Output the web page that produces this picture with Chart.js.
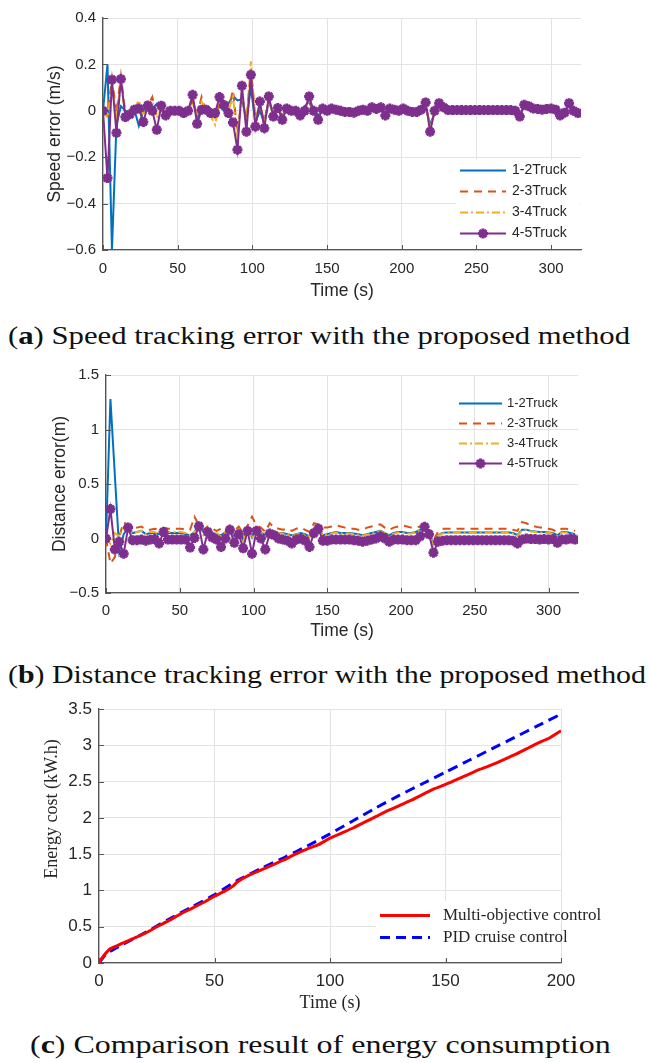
<!DOCTYPE html>
<html lang="en">
<head>
    <meta charset="UTF-8">
    <title>Platoon tracking error and energy cost</title>
    <script src="https://cdn.jsdelivr.net/npm/chart.js"></script>
    <style>
        body { margin: 0; background: #fff; }
        #wrap { position: relative; width: 649px; height: 1063px; overflow: hidden; }
        canvas { position: absolute; left: 0; }
        .cap { position: absolute; white-space: nowrap; font-family: "Liberation Serif", serif;
               font-size: 25px; line-height: 30px; color: #111; transform-origin: 0 50%; }
    </style>
</head>
<body>
<div id="wrap">
    <canvas id="speedChart" width="649" height="310" style="top:0"></canvas>
    <div class="cap" id="capA" style="left:8px; top:321px">(<b>a</b>) Speed tracking error with the proposed method</div>
    <canvas id="distChart" width="649" height="310" style="top:340px"></canvas>
    <div class="cap" id="capB" style="left:8px; top:660px">(<b>b</b>) Distance tracking error with the proposed method</div>
    <canvas id="energyChart" width="649" height="330" style="top:690px"></canvas>
    <div class="cap" id="capC" style="left:30px; top:1030px">(<b>c</b>) Comparison result of energy consumption</div>
</div>

<script>
// sample times (s) shared by the truck error series
var time = [0, 3, 6, 9, 12, 15, 18, 21, 24, 27,
    30, 33, 36, 39, 42, 45, 48, 51, 54, 57,
    60, 63, 66, 69, 72, 75, 78, 81, 84, 87,
    90, 93, 96, 99, 102, 105, 108, 111, 114, 117,
    120, 123, 126, 129, 132, 135, 138, 141, 144, 147,
    150, 153, 156, 159, 162, 165, 168, 171, 174, 177,
    180, 183, 186, 189, 192, 195, 198, 201, 204, 207,
    210, 213, 216, 219, 222, 225, 228, 231, 234, 237,
    240, 243, 246, 249, 252, 255, 258, 261, 264, 267,
    270, 273, 276, 279, 282, 285, 288, 291, 294, 297,
    300, 303, 306, 309, 312, 315, 318];

var truckLabels = ['1-2Truck', '2-3Truck', '3-4Truck', '4-5Truck'];

// (a) speed error, m/s
var speed12 = [0, 0.2, -0.6, -0.06, 0.02, 0, -0.01, 0.005, -0.065, 0,
    0.02, 0.01, 0.03, 0, -0.01, 0, 0, 0, -0.005, 0,
    0.05, -0.03, 0, 0.02, 0.01, -0.02, 0.02, 0, 0.03, 0.065,
    0.045, 0.05, -0.04, 0.1, -0.05, 0, -0.05, 0.04, -0.01, 0.01,
    -0.02, 0.005, 0, 0, -0.01, 0.02, 0.04, -0.01, -0.02, 0.005,
    0, 0.01, 0.005, 0, -0.005, -0.005, -0.008, 0, 0.005, 0,
    0.012, 0.008, 0.012, -0.015, 0.01, 0.005, 0, 0.01, 0, -0.005,
    -0.005, 0.005, 0.02, -0.06, -0.01, 0.02, 0.012, 0.003, 0.003, 0.003,
    0.003, 0.003, 0.003, 0.003, 0.003, 0.003, 0.003, 0.003, 0.003, 0.003,
    0.003, 0.003, 0, -0.015, 0.018, 0.015, 0.01, 0.008, 0.005, 0.008,
    0.01, 0.01, -0.01, 0, 0.02, 0, -0.01];
var speed23 = [0, -0.02, 0.14, -0.01, 0.15, -0.01, -0.005, 0.01, 0.02, -0.02,
    0.02, 0.06, -0.02, 0.01, -0.01, 0, 0, 0, -0.005, 0,
    0.04, -0.02, 0.06, 0, -0.01, -0.03, 0.03, 0.01, 0, 0.09,
    -0.1, 0.07, -0.04, 0.18, -0.03, 0.02, -0.04, 0.04, -0.01, 0.01,
    -0.025, 0.008, 0, 0, -0.012, 0.01, 0.05, -0.005, -0.03, 0.008,
    0, 0.01, 0.005, 0, -0.005, -0.005, -0.008, 0, 0.005, 0,
    0.014, 0.008, 0.014, -0.018, 0.01, 0.005, 0, 0.01, 0, -0.005,
    -0.005, 0.005, 0.028, -0.07, -0.005, 0.028, 0.013, 0.003, 0.003, 0.003,
    0.003, 0.003, 0.003, 0.003, 0.003, 0.003, 0.003, 0.003, 0.003, 0.003,
    0.003, 0.003, 0, -0.02, 0.022, 0.018, 0.01, 0.008, 0.005, 0.008,
    0.01, 0.008, -0.015, -0.005, 0.026, 0, -0.01];
var speed34 = [0, -0.03, 0.1, -0.02, 0.12, -0.02, 0, 0.01, 0.045, -0.02,
    0.02, 0.04, -0.03, 0.01, -0.01, 0, 0, 0, 0, 0,
    0.03, -0.01, 0.04, 0, -0.02, -0.06, 0.03, 0.01, 0, 0.06,
    -0.12, 0.08, -0.06, 0.213, -0.04, 0.03, -0.05, 0.05, -0.015, 0.01,
    -0.03, 0.008, 0, 0, -0.015, 0.005, 0.055, -0.003, -0.035, 0.01,
    0, 0.01, 0.005, 0, -0.005, -0.005, -0.008, 0, 0.005, 0,
    0.015, 0.008, 0.015, -0.02, 0.01, 0.005, 0, 0.01, 0, -0.005,
    -0.005, 0.005, 0.032, -0.08, -0.002, 0.03, 0.014, 0.003, 0.003, 0.003,
    0.003, 0.003, 0.003, 0.003, 0.003, 0.003, 0.003, 0.003, 0.003, 0.003,
    0.003, 0.003, 0, -0.022, 0.024, 0.019, 0.01, 0.008, 0.005, 0.008,
    0.01, 0.006, -0.018, -0.006, 0.03, 0, -0.01];
var speed45 = [0, -0.29, 0.134, -0.095, 0.137, -0.027, -0.015, 0.005, 0.01, -0.048,
    0.023, 0, -0.082, 0.022, -0.02, 0, 0, 0, -0.01, 0,
    0.069, -0.056, 0.005, 0.005, -0.01, -0.01, 0.059, 0.025, -0.01, -0.05,
    -0.168, 0.108, -0.09, 0.155, -0.068, 0.04, -0.075, 0.062, -0.025, 0.012,
    -0.039, 0.01, 0, 0, -0.02, 0, 0.062, 0, -0.039, 0.01,
    0, 0.01, 0.005, 0, -0.005, -0.005, -0.008, 0, 0.005, 0,
    0.015, 0.008, 0.015, -0.02, 0.01, 0.005, 0, 0.01, 0, -0.005,
    -0.005, 0.005, 0.036, -0.09, 0, 0.033, 0.015, 0.003, 0.003, 0.003,
    0.003, 0.003, 0.003, 0.003, 0.003, 0.003, 0.003, 0.003, 0.003, 0.003,
    0.003, 0.003, 0, -0.025, 0.026, 0.02, 0.01, 0.008, 0.005, 0.008,
    0.01, 0.005, -0.02, -0.008, 0.033, 0, -0.01];

// (b) distance error, m
var dist12 = [0, 1.28, 0.58, -0.12, 0.04, 0.1, 0.05, 0.06, 0.07, 0.04,
    0.05, 0.05, 0.04, 0.07, 0.05, 0.05, 0.05, 0.05, 0.04, 0.03,
    0.06, 0.13, 0.06, 0.07, 0.05, 0.04, 0.03, 0.06, 0.1, 0.02,
    0.08, -0.02, 0.1, 0.01, 0.1, 0.06, 0.03, 0.07, 0.06, 0.05,
    0.05, 0.04, 0.03, 0.04, 0.05, 0.04, 0.02, 0.09, 0.1, 0.03,
    0.04, 0.05, 0.06, 0.05, 0.05, 0.05, 0.045, 0.04, 0.03, 0.04,
    0.05, 0.06, 0.07, 0.05, 0.03, 0.05, 0.06, 0.06, 0.05, 0.05,
    0.06, 0.08, 0.11, 0.05, -0.05, 0.03, 0.05, 0.055, 0.055, 0.055,
    0.055, 0.055, 0.055, 0.055, 0.055, 0.055, 0.055, 0.055, 0.055, 0.055,
    0.055, 0.055, 0.05, 0.03, 0.08, 0.08, 0.07, 0.065, 0.06, 0.06,
    0.055, 0.05, 0.03, 0.06, 0.06, 0.05, 0.04];
var dist23 = [0, -0.23, -0.17, 0.02, 0.15, 0.12, 0.09, 0.1, 0.11, 0.08,
    0.08, 0.09, 0.08, 0.1, 0.09, 0.09, 0.09, 0.09, 0.08, 0.08,
    0.2, 0.12, 0.08, 0.11, 0.09, 0.07, 0.09, 0.09, 0.12, 0.07,
    0.11, 0.05, 0.12, 0.2, 0.12, 0.1, 0.06, 0.14, 0.1, 0.09,
    0.08, 0.09, 0.07, 0.09, 0.1, 0.08, 0.06, 0.14, 0.13, 0.1,
    0.1, 0.11, 0.12, 0.11, 0.1, 0.09, 0.09, 0.08, 0.08, 0.1,
    0.11, 0.12, 0.13, 0.1, 0.08, 0.1, 0.11, 0.12, 0.11, 0.1,
    0.1, 0.11, 0.13, 0.09, -0.02, 0.06, 0.09, 0.09, 0.09, 0.09,
    0.09, 0.09, 0.09, 0.09, 0.09, 0.09, 0.09, 0.09, 0.09, 0.09,
    0.09, 0.09, 0.08, 0.07, 0.15, 0.14, 0.12, 0.11, 0.1, 0.1,
    0.09, 0.08, 0.06, 0.09, 0.09, 0.08, 0.07];
var dist34 = [0, -0.05, 0.05, 0.02, 0.1, 0.1, 0.05, 0.06, 0.07, 0.04,
    0.06, 0.06, 0.04, 0.08, 0.06, 0.06, 0.06, 0.06, 0.05, 0.03,
    0.06, 0.1, 0.03, 0.08, 0.06, 0.05, 0.02, 0.06, 0.11, 0.03,
    0.08, -0.03, 0.09, 0, 0.09, 0.06, 0.02, 0.08, 0.07, 0.05,
    0.045, 0.035, 0.025, 0.035, 0.045, 0.035, 0.015, 0.085, 0.095, 0.025,
    0.035, 0.045, 0.055, 0.045, 0.045, 0.045, 0.04, 0.035, 0.025, 0.035,
    0.045, 0.055, 0.065, 0.045, 0.025, 0.045, 0.055, 0.055, 0.045, 0.045,
    0.055, 0.075, 0.1, 0.04, -0.06, 0.025, 0.045, 0.05, 0.05, 0.05,
    0.05, 0.05, 0.05, 0.05, 0.05, 0.05, 0.05, 0.05, 0.05, 0.05,
    0.05, 0.05, 0.045, 0.025, 0.075, 0.075, 0.065, 0.06, 0.055, 0.055,
    0.05, 0.045, 0.025, 0.055, 0.055, 0.045, 0.035];
var dist45 = [0, 0.27, -0.1, -0.03, -0.14, 0.1, -0.015, -0.015, -0.01, -0.02,
    -0.01, -0.005, -0.046, 0.06, -0.01, -0.01, -0.01, -0.01, -0.01, -0.083,
    0.005, 0.113, -0.1, 0.06, 0.01, -0.01, -0.077, 0, 0.08, -0.04,
    0.04, -0.09, 0.07, -0.14, 0.07, 0, -0.1, 0.045, 0.03, 0,
    -0.01, -0.02, -0.046, -0.01, 0, -0.02, -0.077, 0.05, 0.09, -0.02,
    -0.02, -0.01, -0.01, -0.01, -0.01, -0.01, -0.015, -0.02, -0.03, -0.02,
    -0.01, 0, 0.02, 0, -0.03, -0.01, -0.01, -0.01, -0.015, -0.015,
    -0.015, 0.02, 0.107, 0.04, -0.13, -0.03, -0.02, -0.015, -0.015, -0.015,
    -0.015, -0.015, -0.015, -0.015, -0.015, -0.015, -0.015, -0.015, -0.015, -0.015,
    -0.015, -0.015, -0.02, -0.046, -0.01, 0, -0.005, -0.005, -0.01, -0.005,
    -0.01, -0.005, -0.04, -0.01, -0.01, 0, -0.01];

// (c) energy cost, kW.h
var multiTime = [0, 2, 5, 8, 10, 15, 20, 25, 30, 35, 40, 45, 50, 55, 58, 60, 65, 70, 75, 80, 85, 90,
    95, 100, 105, 110, 115, 120, 125, 130, 135, 140, 145, 150, 155, 160, 165, 170, 175, 180, 185, 190, 195, 200];
var multiCost = [0, 0.1, 0.2, 0.24, 0.27, 0.34, 0.41, 0.5, 0.58, 0.67, 0.75, 0.83, 0.92, 1.0, 1.06, 1.12, 1.21, 1.28, 1.35, 1.42, 1.5, 1.57,
    1.63, 1.72, 1.79, 1.86, 1.94, 2.02, 2.1, 2.17, 2.24, 2.32, 2.4, 2.46, 2.53, 2.6, 2.67, 2.73, 2.8, 2.87, 2.95, 3.03, 3.1, 3.2];
var pidTime = [0, 3, 7, 10, 20, 30, 40, 50, 60, 70, 80, 90, 100, 110, 120, 130, 140, 150, 160, 170, 180, 190, 200];
var pidCost = [0, 0.12, 0.2, 0.25, 0.42, 0.6, 0.77, 0.94, 1.14, 1.3, 1.45, 1.61, 1.78, 1.96, 2.14, 2.31, 2.47, 2.63, 2.79, 2.95, 3.11, 3.27, 3.43];

var BLUE = '#0072BD', ORANGE = '#D95319', YELLOW = '#EDB120', PURPLE = '#7E2F8E';
var TXT = '#262626', AXIS = '#555555', GRID = '#e3e3e3';
var NB = '\u00a0';

Chart.defaults.font.family = '"Liberation Sans", Arial, sans-serif';
Chart.defaults.color = TXT;

function pts(xs, ys) {
    return xs.map(function (x, i) { return { x: x, y: ys[i] }; });
}

function fmt(v) {
    var s = String(Number(v.toFixed(2)));
    return s.replace('-', '\u2212');
}

function starAt(ctx, x, y, r) {
    ctx.beginPath();
    ctx.moveTo(x - r, y); ctx.lineTo(x + r, y);
    ctx.moveTo(x, y - r); ctx.lineTo(x, y + r);
    var d = r * 0.7071;
    ctx.moveTo(x - d, y - d); ctx.lineTo(x + d, y + d);
    ctx.moveTo(x - d, y + d); ctx.lineTo(x + d, y - d);
    ctx.stroke();
}

// matlab style ticks pointing into the axes
var inTicks = {
    id: 'inTicks',
    afterDraw: function (chart) {
        var ctx = chart.ctx, a = chart.chartArea, sx = chart.scales.x, sy = chart.scales.y;
        ctx.save();
        ctx.strokeStyle = AXIS;
        ctx.lineWidth = 1;
        ctx.beginPath();
        sx.ticks.forEach(function (t) {
            var p = Math.round(sx.getPixelForValue(t.value)) + 0.5;
            ctx.moveTo(p, a.bottom); ctx.lineTo(p, a.bottom - 5);
        });
        sy.ticks.forEach(function (t) {
            var p = Math.round(sy.getPixelForValue(t.value)) + 0.5;
            ctx.moveTo(a.left, p); ctx.lineTo(a.left + 5, p);
        });
        ctx.stroke();
        ctx.restore();
    }
};

// legend drawn inside the plot, like matlab's
var boxLegend = {
    id: 'boxLegend',
    afterDraw: function (chart, args, o) {
        if (!o || !o.x) return;
        var ctx = chart.ctx;
        ctx.save();
        if (o.bg) {
            ctx.fillStyle = '#fff';
            ctx.fillRect(o.bg[0], o.bg[1], o.bg[2], o.bg[3]);
        }
        chart.data.datasets.forEach(function (ds, i) {
            var y = o.y + i * o.dy;
            ctx.strokeStyle = ds.borderColor;
            ctx.lineWidth = ds.borderWidth;
            ctx.setLineDash(ds.borderDash || []);
            ctx.beginPath();
            ctx.moveTo(o.x, y); ctx.lineTo(o.x + o.len, y);
            ctx.stroke();
            ctx.setLineDash([]);
            if (ds.pointRadius > 0) {
                ctx.lineWidth = ds.pointBorderWidth;
                starAt(ctx, o.x + o.len / 2, y, ds.pointRadius);
            }
            ctx.fillStyle = TXT;
            ctx.font = o.font;
            ctx.textBaseline = 'middle';
            ctx.fillText(ds.label, o.x + o.len + o.gap, y);
        });
        ctx.restore();
    }
};

function truckSets(a, b, c, d) {
    return [
        { label: truckLabels[0], data: pts(time, a), borderColor: BLUE, borderWidth: 2, pointRadius: 0, order: 3 },
        { label: truckLabels[1], data: pts(time, b), borderColor: ORANGE, borderWidth: 2, borderDash: [8, 6], pointRadius: 0, order: 2 },
        { label: truckLabels[2], data: pts(time, c), borderColor: YELLOW, borderWidth: 2, borderDash: [8, 3, 2, 3], pointRadius: 0, order: 1 },
        { label: truckLabels[3], data: pts(time, d), borderColor: PURPLE, borderWidth: 2, pointStyle: 'star',
          pointRadius: 5, pointBorderWidth: 3, pointBorderColor: PURPLE, pointBackgroundColor: PURPLE, order: 0 }
    ];
}

function axes(o) {
    return {
        x: {
            type: 'linear', min: o.xmin, max: o.xmax,
            ticks: { stepSize: o.xstep, includeBounds: false, padding: o.xpad, maxRotation: 0,
                     font: { size: o.tick, family: o.tickFamily }, color: TXT },
            grid: { color: GRID, drawTicks: false },
            border: { color: AXIS, width: 1.3 },
            title: { display: true, text: 'Time (s)', color: TXT, font: { size: o.title, family: o.titleFamily },
                     padding: { top: 0, bottom: o.xtpad } },
            afterFit: function (s) { s.height = o.xh; }
        },
        y: {
            min: o.ymin, max: o.ymax,
            ticks: { stepSize: o.ystep, padding: 7, callback: fmt,
                     font: { size: o.tick, family: o.tickFamily }, color: TXT },
            grid: { color: GRID, drawTicks: false },
            border: { color: AXIS, width: 1.3 },
            title: { display: true, text: o.ytitle, color: TXT, font: { size: o.title, family: o.titleFamily },
                     padding: { top: 0, bottom: 0 } },
            afterFit: function (s) { s.width = o.yw; }
        }
    };
}

new Chart(document.getElementById('speedChart'), {
    type: 'line',
    data: { datasets: truckSets(speed12, speed23, speed34, speed45) },
    options: {
        responsive: false, animation: false,
        elements: { line: { tension: 0 } },
        layout: { padding: { left: 45, right: 68, top: 18, bottom: 0 } },
        scales: axes({ xmin: 0, xmax: 320, xstep: 50, ymin: -0.6, ymax: 0.4, ystep: 0.2,
                       tick: 15, title: 17.5, xpad: 10, xtpad: 8, xh: 60, yw: 58, ytitle: 'Speed error (m/s)' }),
        plugins: {
            legend: { display: false }, tooltip: { enabled: false },
            boxLegend: { x: 460, y: 170.5, dy: 21, len: 46, gap: 6, font: '14px "Liberation Sans"', bg: [456, 160, 124, 85] }
        }
    },
    plugins: [boxLegend, inTicks]
});

new Chart(document.getElementById('distChart'), {
    type: 'line',
    data: { datasets: truckSets(dist12, dist23, dist34, dist45) },
    options: {
        responsive: false, animation: false,
        elements: { line: { tension: 0 } },
        layout: { padding: { left: 50, right: 71, top: 35, bottom: 0 } },
        scales: axes({ xmin: 0, xmax: 320, xstep: 50, ymin: -0.5, ymax: 1.5, ystep: 0.5,
                       tick: 15, title: 17.5, xpad: 9, xtpad: 8, xh: 57, yw: 56, ytitle: 'Distance error(m)' }),
        plugins: {
            legend: { display: false }, tooltip: { enabled: false },
            boxLegend: { x: 459, y: 63.5, dy: 20, len: 43, gap: 5, font: '13px "Liberation Sans"' }
        }
    },
    plugins: [boxLegend, inTicks]
});

new Chart(document.getElementById('energyChart'), {
    type: 'line',
    data: {
        datasets: [
            { label: 'Multi-objective control', data: pts(multiTime, multiCost), borderColor: '#ff0000', borderWidth: 3, pointRadius: 0, order: 0 },
            { label: 'PID cruise control', data: pts(pidTime, pidCost), borderColor: '#0000ff', borderWidth: 3, borderDash: [10, 6], pointRadius: 0, order: 1 }
        ]
    },
    options: {
        responsive: false, animation: false,
        elements: { line: { tension: 0.2 } },
        layout: { padding: { left: 41, right: 88, top: 19, bottom: 0 } },
        scales: axes({ xmin: 0, xmax: 200, xstep: 50, ymin: 0, ymax: 3.5, ystep: 0.5,
                       tick: 17, title: 18, titleFamily: '"Liberation Serif", serif', xpad: 8, xtpad: 6, xh: 57, yw: 58,
                       ytitle: NB.repeat(12) + 'Energy cost (kW.h)' }),
        plugins: {
            legend: { display: false }, tooltip: { enabled: false },
            boxLegend: { x: 380, y: 225.5, dy: 22, len: 50, gap: 13, font: '17px "Liberation Serif"', bg: [376, 211, 184, 58] }
        }
    },
    plugins: [boxLegend, inTicks]
});

// stretch the captions to the width they have in the paper layout
[['capA', 622], ['capB', 638], ['capC', 580]].forEach(function (c) {
    var el = document.getElementById(c[0]);
    el.style.transform = 'scaleX(' + (c[1] / el.offsetWidth).toFixed(3) + ')';
});
</script>
</body>
</html>
